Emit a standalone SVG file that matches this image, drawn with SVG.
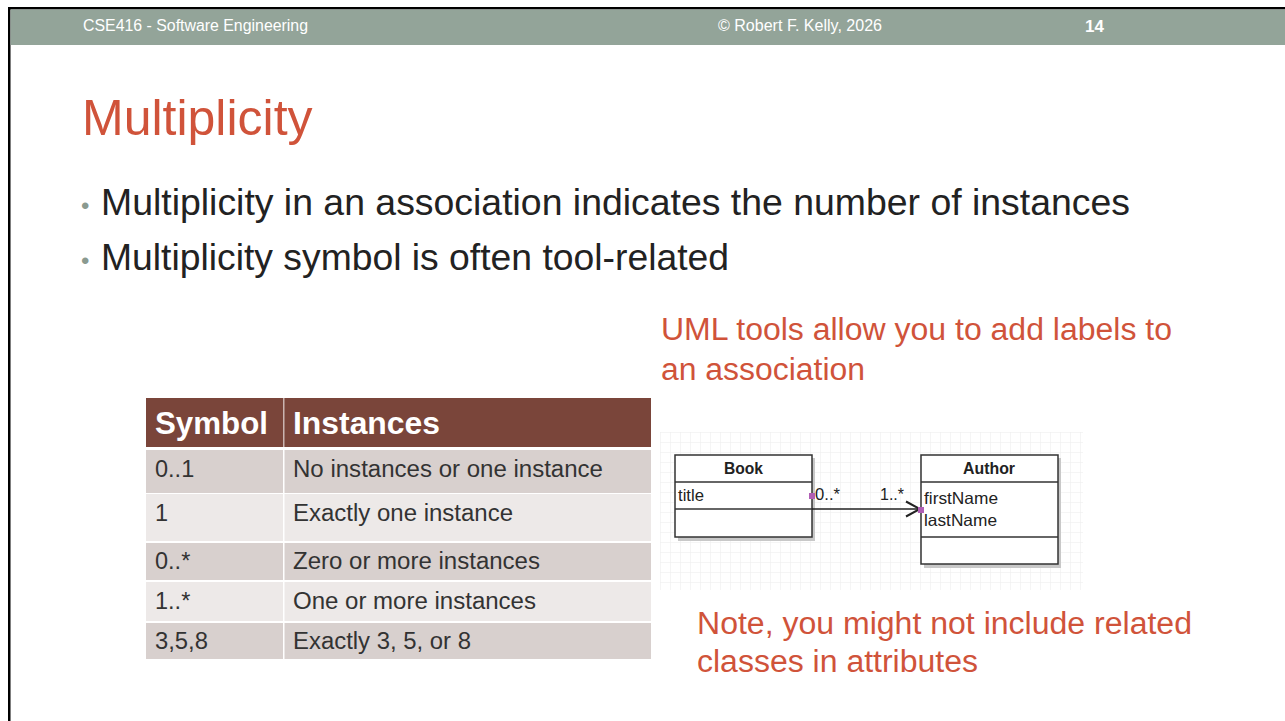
<svg xmlns="http://www.w3.org/2000/svg" width="1285" height="721" viewBox="0 0 1285 721">
<defs>
<style>
.hd{font-family:"Liberation Sans",Arial,sans-serif;font-size:16px;fill:#ffffff}
.title{font-family:"Liberation Sans",Arial,sans-serif;font-size:50px;fill:#D0533A}
.bul{font-family:"Liberation Sans",Arial,sans-serif;font-size:36px;fill:#222222}
.dot{font-family:"Liberation Sans",Arial,sans-serif;font-size:24px;fill:#8a9a90}
.red{font-family:"Liberation Sans",Arial,sans-serif;font-size:31px;fill:#D0533A}
.th{font-family:"Liberation Sans",Arial,sans-serif;font-size:31px;font-weight:bold;fill:#ffffff}
.td{font-family:"Liberation Sans",Arial,sans-serif;font-size:23.5px;fill:#333333}
.odd{fill:#D8D0CE}
.even{fill:#EDE9E8}
.cls{fill:#ffffff;stroke:#333333;stroke-width:1.5}
.shadow{fill:#c8c8c8}
.cn{font-family:"Liberation Sans",Arial,sans-serif;font-size:16px;font-weight:bold;fill:#222222}
.ca{font-family:"Liberation Sans",Arial,sans-serif;font-size:16.5px;fill:#222222}
.ln{stroke:#333333;stroke-width:1.5}
</style>
<pattern id="grid" x="660" y="432" width="10" height="10" patternUnits="userSpaceOnUse">
<path d="M0 0H10M0 0V10" fill="none" stroke="#ececec" stroke-width="1"/>
</pattern>
<marker id="open" viewBox="0 0 16 18" refX="15" refY="9" markerWidth="16" markerHeight="18" markerUnits="userSpaceOnUse" orient="auto">
<path d="M1 1.5L15 9L1 16.5" fill="none" stroke="#222222" stroke-width="2"/>
</marker>
</defs>
<rect x="0" y="0" width="1285" height="721" fill="#ffffff"/>
<rect x="8" y="7" width="1277" height="2.5" fill="#000000"/>
<rect x="8" y="7" width="2.5" height="714" fill="#000000"/>
<rect x="10.5" y="9.5" width="1274.5" height="35.5" fill="#93A499"/>
<text class="hd" x="83" y="31" textLength="225" lengthAdjust="spacingAndGlyphs">CSE416 - Software Engineering</text>
<text class="hd" x="718" y="31" textLength="164" lengthAdjust="spacingAndGlyphs">© Robert F. Kelly, 2026</text>
<text class="hd" x="1085" y="32" style="font-weight:bold;font-size:17px">14</text>

<text class="title" x="82" y="135">Multiplicity</text>
<text class="dot" x="81" y="214">•</text>
<text class="bul" x="101" y="215" textLength="1029" lengthAdjust="spacingAndGlyphs">Multiplicity in an association indicates the number of instances</text>
<text class="dot" x="81" y="269">•</text>
<text class="bul" x="101" y="270" textLength="628" lengthAdjust="spacingAndGlyphs">Multiplicity symbol is often tool-related</text>

<text class="red" x="661" y="340" textLength="511" lengthAdjust="spacingAndGlyphs">UML tools allow you to add labels to</text>
<text class="red" x="661" y="380" textLength="204" lengthAdjust="spacingAndGlyphs">an association</text>
<text class="red" x="697" y="634" textLength="495" lengthAdjust="spacingAndGlyphs">Note, you might not include related</text>
<text class="red" x="697" y="672" textLength="281" lengthAdjust="spacingAndGlyphs">classes in attributes</text>

<g id="table">
<rect x="146" y="398" width="505" height="49" fill="#7A453A"/>
<rect x="283" y="398" width="1.5" height="49" fill="#ffffff" opacity="0.6"/>
<text class="th" x="155" y="434" textLength="113" lengthAdjust="spacingAndGlyphs">Symbol</text>
<text class="th" x="293" y="434" textLength="147" lengthAdjust="spacingAndGlyphs">Instances</text>
<rect class="odd" x="146" y="450" width="505" height="43"/>
<rect class="even" x="146" y="494" width="505" height="47"/>
<rect class="odd" x="146" y="543" width="505" height="37"/>
<rect class="even" x="146" y="582" width="505" height="39"/>
<rect class="odd" x="146" y="623" width="505" height="36"/>
<rect x="283" y="450" width="1.5" height="209" fill="#ffffff"/>
<text class="td" x="155" y="477">0..1</text>
<text class="td" x="293" y="477" textLength="310" lengthAdjust="spacingAndGlyphs">No instances or one instance</text>
<text class="td" x="155" y="521">1</text>
<text class="td" x="293" y="521" textLength="220" lengthAdjust="spacingAndGlyphs">Exactly one instance</text>
<text class="td" x="155" y="569">0..*</text>
<text class="td" x="293" y="569" textLength="247" lengthAdjust="spacingAndGlyphs">Zero or more instances</text>
<text class="td" x="155" y="609">1..*</text>
<text class="td" x="293" y="609" textLength="243" lengthAdjust="spacingAndGlyphs">One or more instances</text>
<text class="td" x="155" y="649" textLength="53" lengthAdjust="spacingAndGlyphs">3,5,8</text>
<text class="td" x="293" y="649" textLength="178" lengthAdjust="spacingAndGlyphs">Exactly 3, 5, or 8</text>
</g>

<rect x="660" y="432" width="423" height="158" fill="url(#grid)"/>

<g id="book">
<rect class="shadow" x="678" y="458" width="137" height="83"/>
<rect class="cls" x="675" y="455" width="137" height="82"/>
<line class="ln" x1="675" y1="482" x2="812" y2="482"/>
<line class="ln" x1="675" y1="509" x2="812" y2="509"/>
<text class="cn" x="743.5" y="474" text-anchor="middle" textLength="39" lengthAdjust="spacingAndGlyphs">Book</text>
<text class="ca" x="678" y="501" textLength="26" lengthAdjust="spacingAndGlyphs">title</text>
</g>

<g id="author">
<rect class="shadow" x="924" y="458" width="137" height="110"/>
<rect class="cls" x="921" y="455" width="137" height="109"/>
<line class="ln" x1="921" y1="482" x2="1058" y2="482"/>
<line class="ln" x1="921" y1="537" x2="1058" y2="537"/>
<text class="cn" x="989" y="474" text-anchor="middle" textLength="52" lengthAdjust="spacingAndGlyphs">Author</text>
<text class="ca" x="924" y="504" textLength="74" lengthAdjust="spacingAndGlyphs">firstName</text>
<text class="ca" x="924" y="526" textLength="73" lengthAdjust="spacingAndGlyphs">lastName</text>
</g>

<g id="connectors">
<line x1="812" y1="509" x2="920" y2="509" stroke="#222222" stroke-width="1.5" marker-end="url(#open)"/>
<rect x="809" y="493" width="6" height="6" fill="#b05fb5"/>
<rect x="918" y="507" width="6" height="6" fill="#b05fb5"/>
<text class="ca" x="815" y="500" textLength="25" lengthAdjust="spacingAndGlyphs">0..*</text>
<text class="ca" x="880" y="500" textLength="24" lengthAdjust="spacingAndGlyphs">1..*</text>
</g>
</svg>
